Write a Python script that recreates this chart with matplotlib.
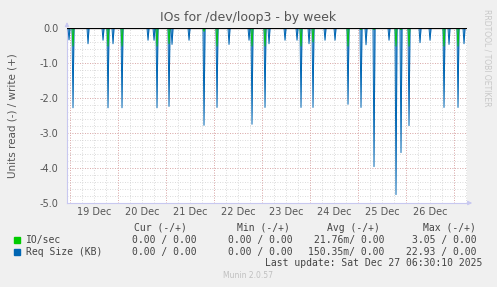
import matplotlib
matplotlib.use('Agg')
import matplotlib.pyplot as plt
import numpy as np

# hours relative to 20 Dec 00:00, spikes on the read (-) side
spike_hours = [-24.5, -22.5, -15.0, -7.5, -5.0, -2.5, 2.0, 15.0, 18.0, 19.5,
               25.5, 27.0, 35.5, 43.0, 49.5, 55.5, 65.5, 67.0, 73.5, 75.5,
               83.5, 89.5, 91.5, 95.5, 97.5, 103.5, 108.5, 115.0, 121.5, 124.0,
               128.0, 135.5, 139.0, 141.5, 145.5, 151.0, 156.0, 163.0, 165.5, 170.0,
               173.0]
req_size = [0.34, 2.28, 0.45, 0.35, 2.28, 0.45, 2.28, 0.35, 0.35, 2.28,
            2.24, 0.47, 0.35, 2.78, 2.27, 0.47, 0.35, 2.75, 2.27, 0.45,
            0.35, 0.35, 2.27, 0.45, 2.27, 0.35, 0.35, 2.18, 2.27, 0.48,
            3.96, 0.35, 4.76, 3.56, 2.79, 0.42, 0.35, 2.27, 0.47, 2.27,
            0.45]
io_sec = [0.02, 0.52, 0.02, 0.02, 0.52, 0.02, 0.52, 0.02, 0.02, 0.52,
          0.45, 0.02, 0.02, 0.10, 0.52, 0.02, 0.02, 0.52, 0.52, 0.02,
          0.02, 0.02, 0.52, 0.02, 0.40, 0.02, 0.02, 0.52, 0.05, 0.02,
          0.05, 0.02, 0.52, 0.05, 0.52, 0.02, 0.02, 0.52, 0.02, 0.52,
          0.02]

day_labels = ['19 Dec', '20 Dec', '21 Dec', '22 Dec', '23 Dec', '24 Dec', '25 Dec', '26 Dec']
legend_names = ['IO/sec', 'Req Size (KB)']
legend_colors = ['#00cc00', '#0066b3']
cur_vals = ['0.00 / 0.00', '0.00 / 0.00']
min_vals = ['0.00 / 0.00', '0.00 / 0.00']
avg_vals = ['21.76m/ 0.00', '150.35m/ 0.00']
max_vals = ['3.05 / 0.00', '22.93 / 0.00']

# 30 minute samples over the week
t = np.arange(-25.5, 174.51, 0.5)
req = np.zeros_like(t)
ios = np.zeros_like(t)
for h, r, i in zip(spike_hours, req_size, io_sec):
    k = int(round((h - t[0]) / 0.5))
    req[k] = -r
    ios[k] = -i

W, H = 497, 287
fig = plt.figure(figsize=(W / 100, H / 100), dpi=100, facecolor='#f0f0f0')
ax = fig.add_axes([67 / W, 1 - 203 / H, 400 / W, 175 / H])
ax.set_facecolor('white')

# grid
for y in np.arange(-5.0, 0.01, 0.2):
    ax.axhline(y, color='#cfcfcf', lw=0.6, ls=(0, (1, 2)), zorder=0)
for y in range(-5, 1):
    ax.axhline(y, color='#e09a9a', lw=0.6, ls=(0, (1, 2)), zorder=0)
for x in np.arange(-24, 175, 6):
    ax.axvline(x, color='#cfcfcf', lw=0.6, ls=(0, (1, 2)), zorder=0)
for x in np.arange(-24, 175, 24):
    ax.axvline(x, color='#e09a9a', lw=0.6, ls=(0, (1, 2)), zorder=0)

ax.fill_between(t, req, 0, color='#5a9bd5', lw=0, zorder=2)
ax.plot(t, req, color='#0066b3', lw=0.7, zorder=3)
ax.plot(t, ios, color='#00cc00', lw=0.6, zorder=4)
ax.axhline(0, color='black', lw=0.9, zorder=5)

ax.set_xlim(-25.5, 174.5)
ax.set_ylim(-5.0, 0.0)
ax.set_yticks(np.arange(-5.0, 0.01, 1.0))
ax.set_yticklabels(['%.1f' % v for v in np.arange(-5.0, 0.01, 1.0)])
ax.set_xticks(np.arange(-12, 157, 24))
ax.set_xticklabels(day_labels)
ax.tick_params(axis='both', length=0, labelsize=7, colors='#555555', pad=3)
ax.tick_params(axis='y', pad=6)
for s in ['top', 'right']:
    ax.spines[s].set_visible(False)
for s in ['left', 'bottom']:
    ax.spines[s].set_color('#c8c8f0')
    ax.spines[s].set_linewidth(0.8)
ax.set_ylabel('Units read (-) / write (+)', fontsize=7.5, color='#555555', labelpad=16)

# axis arrows
ax.annotate('', xy=(-25.5, 0.25), xytext=(-25.5, -0.05), annotation_clip=False,
            arrowprops=dict(arrowstyle='-|>', color='#c8c8f0', lw=0.8, mutation_scale=6))
ax.annotate('', xy=(178.5, -5.0), xytext=(174, -5.0), annotation_clip=False,
            arrowprops=dict(arrowstyle='-|>', color='#c8c8f0', lw=0.8, mutation_scale=6))

fig.text(248 / W, 1 - 18 / H, 'IOs for /dev/loop3 - by week', ha='center', va='center',
         fontsize=9, color='#555555')
fig.text(487 / W, 1 - 58 / H, 'RRDTOOL / TOBI OETIKER', rotation=270, ha='center', va='center',
         fontsize=5.5, color='#c8c8c8')

mono = 'DejaVu Sans Mono'
tc = '#444444'
for x, s in [(187, 'Cur (-/+)'), (290, 'Min (-/+)'), (380, 'Avg (-/+)'), (476, 'Max (-/+)')]:
    fig.text(x / W, 1 - 228 / H, s, ha='right', va='center', family=mono, fontsize=7, color=tc)
rows_y = [240, 252]
for k in range(2):
    y = 1 - rows_y[k] / H
    fig.patches.append(plt.Rectangle((14 / W, y - 3 / H), 6 / W, 6 / H, transform=fig.transFigure,
                                     color=legend_colors[k]))
    fig.text(26 / W, y, legend_names[k], ha='left', va='center', family=mono, fontsize=7, color=tc)
    fig.text(197 / W, y, cur_vals[k], ha='right', va='center', family=mono, fontsize=7, color=tc)
    fig.text(293 / W, y, min_vals[k], ha='right', va='center', family=mono, fontsize=7, color=tc)
    fig.text(384 / W, y, avg_vals[k], ha='right', va='center', family=mono, fontsize=7, color=tc)
    fig.text(477 / W, y, max_vals[k], ha='right', va='center', family=mono, fontsize=7, color=tc)
fig.text(482 / W, 1 - 263 / H, 'Last update: Sat Dec 27 06:30:10 2025', ha='right', va='center',
         family=mono, fontsize=7, color=tc)
fig.text(248 / W, 1 - 276 / H, 'Munin 2.0.57', ha='center', va='center', fontsize=5.5, color='#c0c0c0')

fig.savefig('out.png', dpi=100, facecolor=fig.get_facecolor())
